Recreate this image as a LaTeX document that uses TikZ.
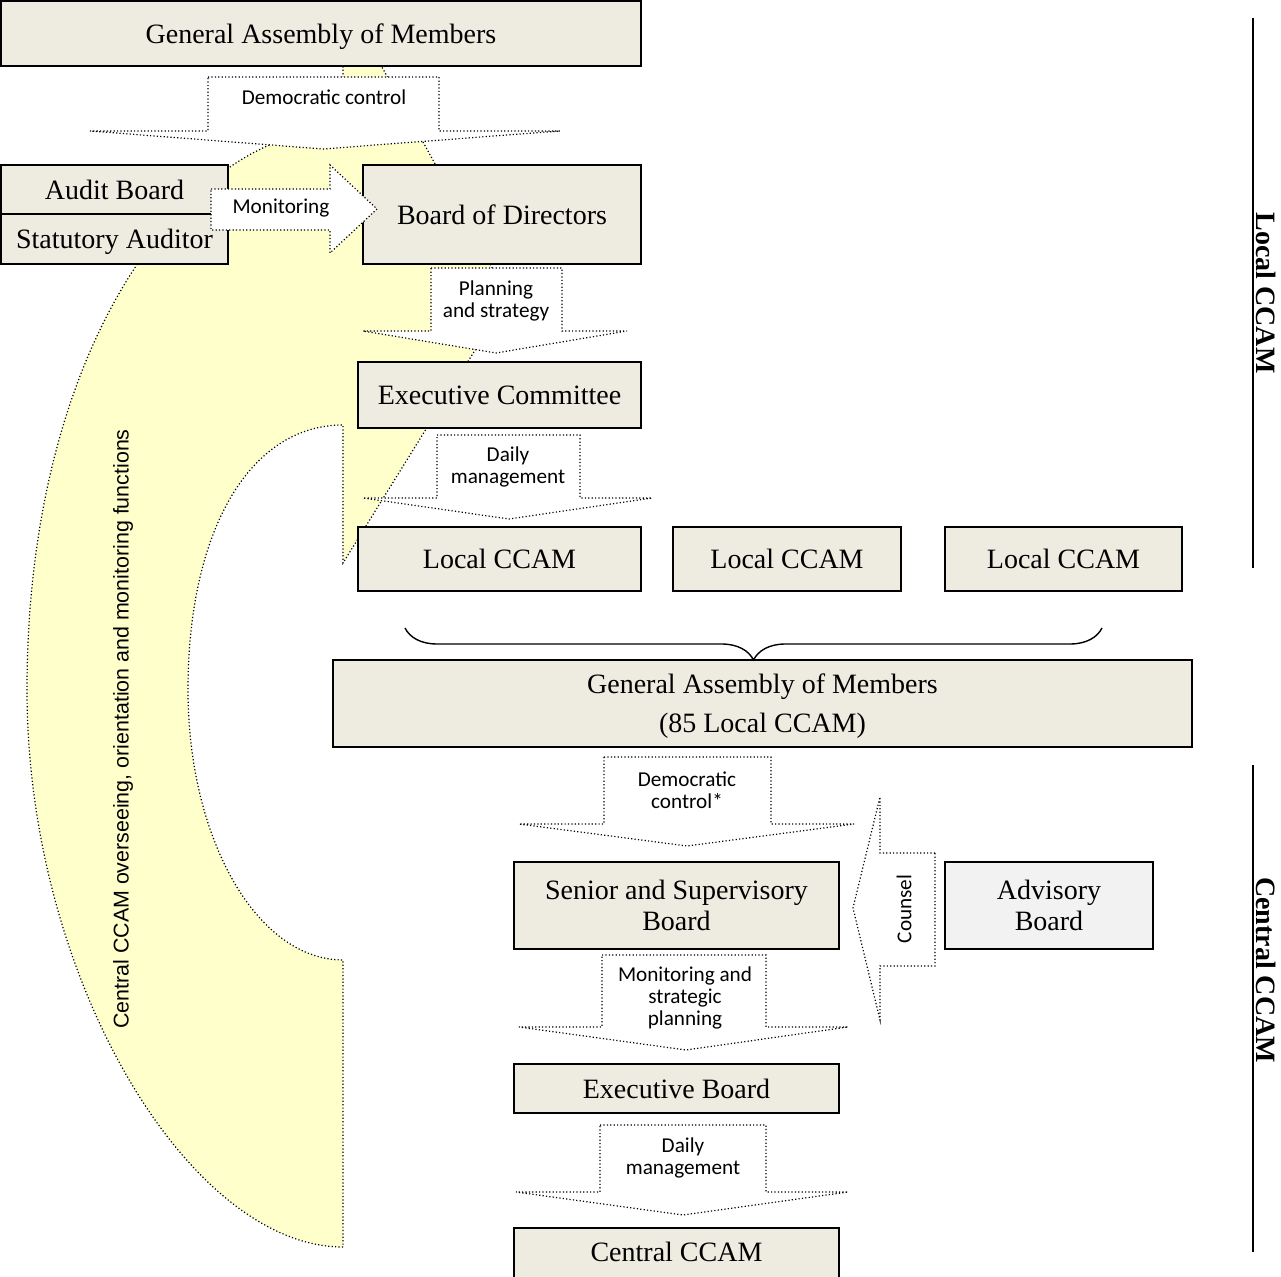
\documentclass[tikz,border=0pt]{standalone}
\usepackage{fontspec}
\setmainfont{Liberation Serif}
\newfontfamily\calibfont{Carlito}
\newfontfamily\arialfont{Liberation Sans}
\usetikzlibrary{decorations.pathreplacing}
\definecolor{boxfill}{HTML}{EEECE1}
\definecolor{advfill}{HTML}{F2F2F2}
\definecolor{yel}{HTML}{FFFFCC}
\tikzset{
 box/.style={draw=black, line width=1pt, fill=boxfill, inner sep=0pt, align=center, text depth=0pt, font=\fontsize{14}{15.5}\selectfont},
 blk/.style={draw=black, line width=0.6pt, dash pattern=on 0.6pt off 1.1pt, fill=white},
 lbl/.style={font=\calibfont\fontsize{10.6}{10.8}\selectfont, align=center, inner sep=0pt},
 side/.style={font=\bfseries\fontsize{14}{16}\selectfont, rotate=-90, anchor=south, inner sep=0pt},
}
\newcommand\dnarr[8]{\path[blk] (#1,#3) -- (#2,#3) -- (#2,#4) -- (#6,#4) -- (#7,#8) -- (#5,#4) -- (#1,#4) -- cycle;}
\begin{document}
\begin{tikzpicture}[x=0.5pt,y=-0.5pt]
\useasboundingbox (0,0) rectangle (1281,1277);
\clip (0,0) rectangle (1281,1277);
% curved yellow arrow
\path[blk, fill=yel] (343,1247) .. controls (190,1247) and (27,980) .. (27,690)
  .. controls (27,330) and (200,125) .. (343,130) -- (343,-4) -- (508,297) -- (343,563) -- (343,425)
  .. controls (250,425) and (188,530) .. (188,690) .. controls (188,839) and (257,960) .. (343,960) -- cycle;
\node[lbl, font=\arialfont\fontsize{10.7}{12}\selectfont, rotate=90] (ytext) at (123,729) {Central CCAM overseeing, orientation and monitoring functions};
% boxes
\node[box, minimum width=320pt, minimum height=32.5pt] (ga) at (321,33.5) {General Assembly of Members};
\node[box, minimum width=113.5pt, minimum height=24.5pt] (audit) at (114.5,189.5) {Audit Board};
\node[box, minimum width=113.5pt, minimum height=25pt] (stat) at (114.5,239) {Statutory Auditor};
\node[box, minimum width=139pt, minimum height=49.5pt] (bod) at (502,214.5) {Board of Directors};
\node[box, minimum width=141.5pt, minimum height=33pt] (exec) at (499.5,395) {Executive Committee};
\node[box, minimum width=141.5pt, minimum height=32pt] (loca) at (499.5,559) {Local CCAM};
\node[box, minimum width=114pt, minimum height=32pt] (locb) at (787,559) {Local CCAM};
\node[box, minimum width=118.5pt, minimum height=32pt] (locc) at (1063.5,559) {Local CCAM};
\node[box, minimum width=429.5pt, minimum height=43.5pt, text depth=-3pt, font=\fontsize{14}{19.5}\selectfont] (ganew) at (762.5,703.5) {General Assembly of Members\\(85 Local CCAM)};
\node[box, minimum width=162.5pt, minimum height=43.5pt] (ssb) at (676.5,905.5) {Senior and Supervisory\\Board};
\node[box, fill=advfill, minimum width=104pt, minimum height=43.5pt] (adv) at (1049,905.5) {Advisory\\Board};
\node[box, minimum width=162.5pt, minimum height=24.5pt] (eb) at (676.5,1088.5) {Executive Board};
\node[box, minimum width=162.5pt, minimum height=27pt, text depth=3.2pt] (cc) at (676.5,1255) {Central CCAM};
% block arrows
\dnarr{208}{439}{77}{131}{90}{560}{323}{149}
\node[lbl] (l1) at (324,97) {Democratic control};
\path[blk] (211,189) -- (330,189) -- (330,165) -- (377,209) -- (330,253) -- (330,230) -- (211,230) -- cycle;
\node[lbl] (l2) at (281,208) {Monitoring};
\dnarr{431}{562}{268}{331}{363}{627}{496}{353}
\node[lbl] (l3) at (496,301) {Planning\\and strategy};
\dnarr{437}{580}{435}{498}{363}{652}{509}{519}
\node[lbl] (l4) at (508,467) {Daily\\management};
\dnarr{604}{771}{757}{824}{519}{854}{687}{846}
\node[lbl] (l5) at (687,790) {Democratic\\control*};
\path[blk] (935,853) -- (880,853) -- (880,797) -- (853,908) -- (880,1020) -- (880,966) -- (935,966) -- cycle;
\node[lbl, rotate=90] (l6) at (904,909) {Counsel};
\dnarr{602}{766}{955}{1027}{519}{848}{686}{1050}
\node[lbl] (l7) at (685,998) {Monitoring and\\strategic\\planning};
\dnarr{600}{766}{1125}{1192}{516}{848}{683}{1215}
\node[lbl] (l8) at (683,1158) {Daily\\management};
% brace
\coordinate (bl) at (405,628);
\coordinate (br) at (1102,628);
\draw[line width=0.7pt, decorate, decoration={brace, mirror, amplitude=16pt}] (bl) -- (br);
% side labels
\coordinate (s1a) at (1253,18);
\coordinate (s1b) at (1253,568);
\coordinate (s2a) at (1253,765);
\coordinate (s2b) at (1253,1252);
\draw[line width=1pt] (s1a) -- (s1b);
\node[side] (sl) at (1256,293) {Local CCAM};
\draw[line width=1pt] (s2a) -- (s2b);
\node[side] (sc) at (1256,970) {Central CCAM};
\end{tikzpicture}
\end{document}
